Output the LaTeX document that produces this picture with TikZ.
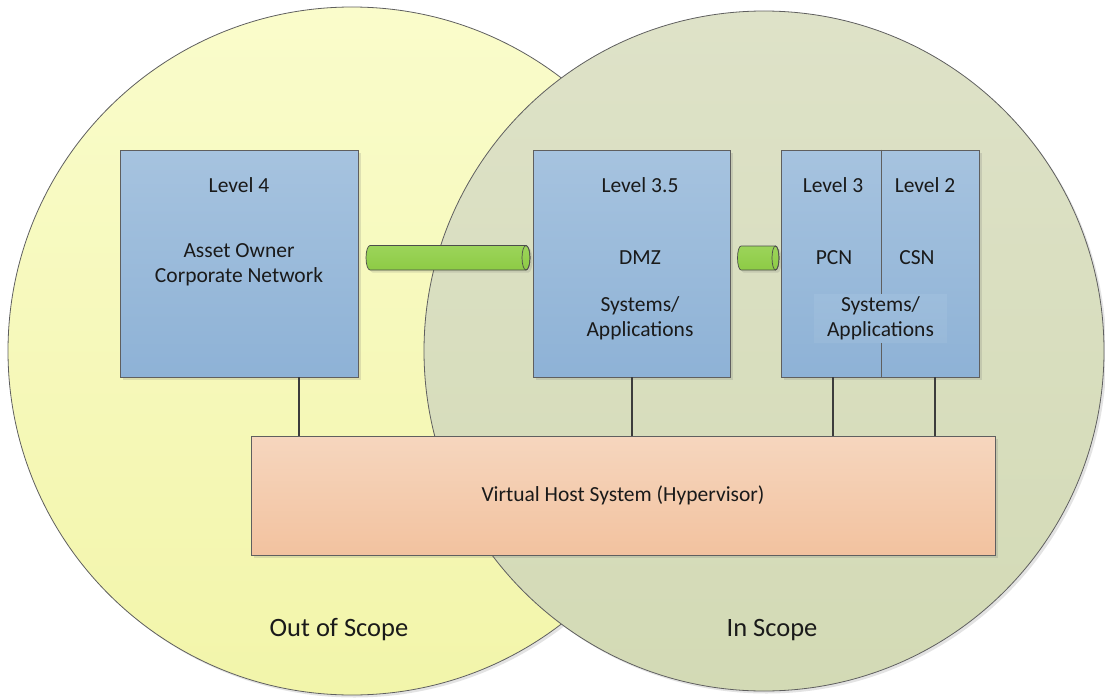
\documentclass[tikz,border=0pt]{standalone}
\usepackage{fontspec}
\setmainfont{Carlito}
\usetikzlibrary{shadows}

\definecolor{outline}{HTML}{5F5F5F}
\definecolor{yellowtop}{HTML}{FAFCCB}
\definecolor{yellowbot}{HTML}{F2F5AA}
\definecolor{sagetop}{HTML}{DEE2C8}
\definecolor{sagebot}{HTML}{D3DAB5}
\definecolor{bluetop}{HTML}{A6C3DF}
\definecolor{bluebot}{HTML}{8EB2D6}
\definecolor{peachtop}{HTML}{F6D6BE}
\definecolor{peachbot}{HTML}{F2C29F}
\definecolor{pipegreen}{HTML}{8DCB45}
\definecolor{pipetop}{HTML}{9CD45A}
\definecolor{ink}{HTML}{1A1A1A}
\definecolor{wire}{HTML}{3C3C3C}
\definecolor{sysfilltop}{HTML}{9DBDDC}
\definecolor{sysfillbot}{HTML}{98B9D9}

\tikzset{
  softshadow/.style={drop shadow={opacity=0.18, shadow xshift=2.5pt, shadow yshift=-2.5pt, fill=black!60}},
  scopecircle/.style={circle, draw=outline, line width=0.8pt, inner sep=0pt, minimum size=#1, softshadow},
  levelbox/.style={rectangle, draw=outline, line width=0.8pt, inner sep=0pt,
    top color=bluetop, bottom color=bluebot, softshadow},
  hostbox/.style={rectangle, draw=outline, line width=0.8pt, inner sep=0pt,
    top color=peachtop, bottom color=peachbot, softshadow},
  lbl/.style={font=\fontsize{21.5}{25}\selectfont, text=ink, align=center, inner sep=0pt},
  biglbl/.style={font=\fontsize{26.5}{30}\selectfont, text=ink, inner sep=0pt},
  link/.style={draw=wire, line width=2pt},
  pipe/.style={draw=outline!80!black, line width=0.7pt, top color=pipetop, bottom color=pipegreen}
}

\begin{document}
\begin{tikzpicture}[x=1pt,y=-1pt]
  \useasboundingbox (0,0) rectangle (1105,698);

  % the two scope regions
  \node[scopecircle=688pt, top color=yellowtop, bottom color=yellowbot] (outscope) at (352,351) {};
  \node[scopecircle=680pt, top color=sagetop, bottom color=sagebot] (inscope) at (764,351) {};

  % level boxes
  \node[levelbox, minimum width=238pt, minimum height=227pt] (l4) at (239,263.5) {};
  \node[levelbox, minimum width=197pt, minimum height=227pt] (dmz) at (631.5,263.5) {};
  \node[levelbox, minimum width=198pt, minimum height=227pt] (pcn) at (880,263.5) {};
  \draw[outline, line width=0.8pt] ([xshift=1pt]pcn.north) -- ([xshift=1pt]pcn.south);

  % hypervisor
  \node[hostbox, minimum width=744pt, minimum height=119pt] (hv) at (623,495.5) {};

  % links down to the hypervisor
  \draw[link] ([xshift=60pt]l4.south) -- ([xshift=60pt]l4.south |- hv.north);
  \draw[link] ([xshift=0.5pt]dmz.south) -- ([xshift=0.5pt]dmz.south |- hv.north);
  \draw[link] ([xshift=-47pt]pcn.south) -- ([xshift=-47pt]pcn.south |- hv.north);
  \draw[link] ([xshift=55pt]pcn.south) -- ([xshift=55pt]pcn.south |- hv.north);

  % network pipes
  \coordinate (p1a) at (370,245.5);
  \coordinate (p1b) at (526,245.5);
  \path[pipe, softshadow] (p1a) -- (p1b) arc[start angle=-90, end angle=90, x radius=4pt, y radius=-12.25pt]
    -- ++(-156,0) arc[start angle=90, end angle=270, x radius=4pt, y radius=-12.25pt] -- cycle;
  \draw[outline!80!black, line width=0.7pt] ([yshift=-12.25pt]p1b) ellipse[x radius=4pt, y radius=12.25pt];

  \coordinate (p2a) at (741,246);
  \coordinate (p2b) at (775.5,246);
  \path[pipe, softshadow] (p2a) -- (p2b) arc[start angle=-90, end angle=90, x radius=3.5pt, y radius=-12pt]
    -- ++(-34.5,0) arc[start angle=90, end angle=270, x radius=3.5pt, y radius=-12pt] -- cycle;
  \draw[outline!80!black, line width=0.7pt] ([yshift=-12pt]p2b) ellipse[x radius=3.5pt, y radius=12pt];

  % texts of level 4
  \node[lbl] (t4) at (239,185) {Level 4};
  \node[lbl] (t4b) at (239,264.5) {Asset Owner\\Corporate Network};

  % texts of level 3.5
  \node[lbl] (t35) at (640,185) {Level 3.5};
  \node[lbl] (tdmz) at (640,258) {DMZ};
  \node[lbl] (tsys1) at (640,318.5) {Systems/\\Applications};

  % texts of levels 3 and 2
  \node[lbl] (t3) at (833,185) {Level 3};
  \node[lbl] (t2) at (925,185) {Level 2};
  \node[lbl] (tpcn) at (834,258) {PCN};
  \node[lbl] (tcsn) at (917,258) {CSN};
  \node[lbl, top color=sysfilltop, bottom color=sysfillbot,
        minimum width=133pt, minimum height=48pt] (tsys2) at (880.5,318.5) {Systems/\\Applications};

  % hypervisor and scope labels
  \node[lbl] (thv) at (623,495) {Virtual Host System (Hypervisor)};
  \node[biglbl] (tout) at (339,630) {Out of Scope};
  \node[biglbl] (tin) at (772,630) {In Scope};
\end{tikzpicture}
\end{document}
